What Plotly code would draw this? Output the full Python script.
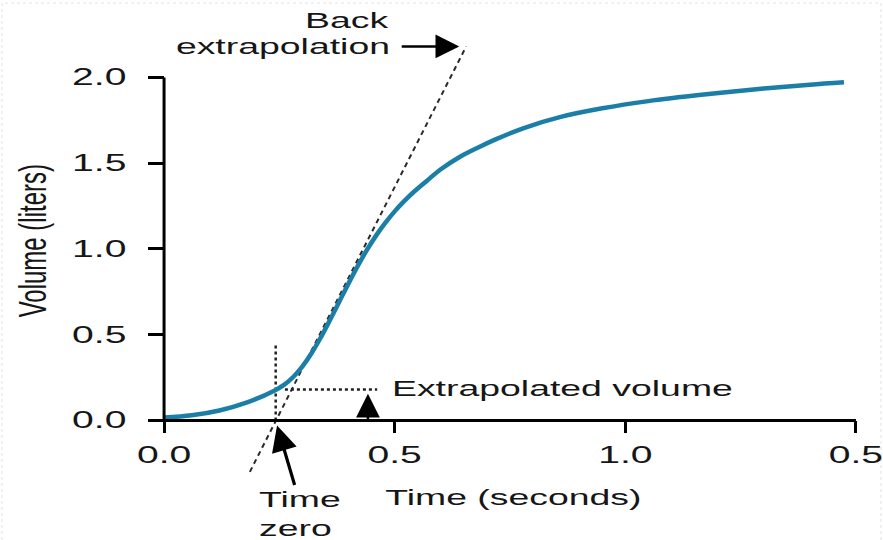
import plotly.graph_objects as go

# Spirometry volume-time trace (seconds, liters)
time_s = [0.000, 0.060, 0.120, 0.180, 0.240, 0.260, 0.280, 0.300, 0.320, 0.340,
          0.360, 0.380, 0.400, 0.420, 0.440, 0.460, 0.480, 0.500, 0.520, 0.540,
          0.570, 0.600, 0.640, 0.680, 0.720, 0.780, 0.860, 0.950, 1.050, 1.170,
          1.300, 1.400, 1.474]
volume_l = [0.017, 0.030, 0.058, 0.105, 0.175, 0.207, 0.253, 0.315, 0.393, 0.485,
            0.587, 0.693, 0.799, 0.901, 0.995, 1.079, 1.153, 1.219, 1.277, 1.329,
            1.398, 1.465, 1.535, 1.590, 1.640, 1.705, 1.770, 1.820, 1.862, 1.900,
            1.935, 1.958, 1.972]

# Back-extrapolated tangent line through the steepest part of the curve
backext_t = [0.186, 0.655]
backext_v = [-0.300, 2.181]

time_zero = 0.242
time_zero_marker_top = 0.45
extrapolated_volume = 0.18
extrap_vol_t = [0.262, 0.462]

x_tickvals = [0.0, 0.5, 1.0, 1.5]
x_ticktext = ["0.0", "0.5", "1.0", "0.5"]
y_tickvals = [0.0, 0.5, 1.0, 1.5, 2.0]
y_ticktext = ["0.0", "0.5", "1.0", "1.5", "2.0"]

X_RANGE = [-0.05, 1.55]
Y_RANGE = [-0.40, 2.30]
X_AXIS_END = 1.5
Y_AXIS_END = 2.0

W, H = 883, 540
M = dict(l=141, r=4, t=26, b=51)

FONT = "Liberation Sans, Arial, Helvetica, sans-serif"
INK = "#161616"
CURVE = "#1b7ea6"

fig = go.Figure()

fig.add_trace(go.Scatter(
    x=backext_t, y=backext_v, mode="lines",
    line=dict(color="#2a2a2a", width=2, dash="5px,4px"), hoverinfo="skip"))

fig.add_trace(go.Scatter(
    x=[time_zero, time_zero], y=[0.0, time_zero_marker_top], mode="lines",
    line=dict(color="#222222", width=2.5, dash="dot"), hoverinfo="skip"))

fig.add_trace(go.Scatter(
    x=extrap_vol_t, y=[extrapolated_volume, extrapolated_volume], mode="lines",
    line=dict(color="#222222", width=2.5, dash="dot"), hoverinfo="skip"))

fig.add_trace(go.Scatter(
    x=time_s, y=volume_l, mode="lines",
    line=dict(color=CURVE, width=4.5, shape="spline", smoothing=1.0),
    hoverinfo="skip"))

# Axis lines stop at the last tick, so draw them as shapes
fig.add_shape(type="line", xref="x", yref="y", x0=0, y0=0, x1=X_AXIS_END, y1=0,
              line=dict(color="black", width=3), layer="above")
fig.add_shape(type="line", xref="x", yref="y", x0=0, y0=0, x1=0, y1=Y_AXIS_END,
              line=dict(color="black", width=3), layer="above")

# light dotted frame around the figure
pw = W - M["l"] - M["r"]
ph = H - M["t"] - M["b"]
fig.add_shape(type="rect", xref="paper", yref="paper",
              x0=(2 - M["l"]) / pw, x1=(W - 2 - M["l"]) / pw,
              y0=(M["b"] - H + 3) / ph, y1=(H - 3 - M["b"]) / ph,
              line=dict(color="#e2e2e2", width=1, dash="dot"), layer="below")

x_pos = (0 - Y_RANGE[0]) / (Y_RANGE[1] - Y_RANGE[0])
y_pos = (0 - X_RANGE[0]) / (X_RANGE[1] - X_RANGE[0])

fig.update_layout(
    width=W, height=H, margin=M,
    paper_bgcolor="white", plot_bgcolor="white",
    showlegend=False,
    font=dict(family=FONT, color=INK),
    xaxis=dict(range=X_RANGE, anchor="free", position=x_pos,
               showgrid=False, zeroline=False, showline=False,
               tickmode="array", tickvals=x_tickvals, ticktext=x_ticktext,
               ticks="outside", ticklen=12, tickwidth=3, tickcolor="black",
               tickfont=dict(size=23, family=FONT, color=INK),
               ticklabelstandoff=2),
    yaxis=dict(range=Y_RANGE, anchor="free", position=y_pos,
               showgrid=False, zeroline=False, showline=False,
               tickmode="array", tickvals=y_tickvals, ticktext=y_ticktext,
               ticks="outside", ticklen=16, tickwidth=3, tickcolor="black",
               tickfont=dict(size=23, family=FONT, color=INK),
               ticklabelstandoff=17),
)

def label(text, x, y, xanchor, yshift=0, size=22):
    fig.add_annotation(text=text, x=x, y=y, xref="x", yref="y", yshift=yshift,
                       xanchor=xanchor, yanchor="middle", align=xanchor,
                       showarrow=False, font=dict(size=size, family=FONT, color=INK))

def arrow(x_tail, y_tail, x_tip, y_tip, width=2.5, size=1.9):
    fig.add_annotation(text="", x=x_tip, y=y_tip, ax=x_tail, ay=y_tail,
                       xref="x", yref="y", axref="x", ayref="y",
                       showarrow=True, arrowhead=2, arrowsize=size,
                       arrowwidth=width, arrowcolor="black", standoff=0)

label("Back", 0.494, 2.181, "right", yshift=26)
label("extrapolation", 0.494, 2.181, "right")
arrow(0.512, 2.181, 0.640, 2.181)

label("Extrapolated volume", 0.490, 0.187, "left")
arrow(0.442, 0.0, 0.442, 0.155)

label("Time", 0.2016, -0.38, "left", yshift=-14)
label("zero", 0.2016, -0.38, "left", yshift=-43)
arrow(0.284, -0.385, 0.245, -0.03, width=3.2, size=1.6)

label("Time (seconds)", 0.757, -0.38, "center", yshift=-12)

# y-axis title, vertical
fig.add_annotation(text="Volume (liters)", x=0.0, y=1.044, xref="paper", yref="y",
                   xshift=-109, textangle=-90, showarrow=False,
                   xanchor="center", yanchor="middle",
                   font=dict(size=24, family=FONT, color=INK))

# widen the lettering horizontally around each label's anchor point
stretch_js = r"""
var gd = document.getElementById('{plot_id}');
var SX = 1.7;
gd.querySelectorAll('svg text').forEach(function(el){
  if (!el.textContent || !el.textContent.trim()) return;
  var bb = el.getBBox();
  var anchor = el.getAttribute('text-anchor') || 'start';
  var own = el.getAttribute('transform') || '';
  var grp = el.closest('.annotation-text-g');
  var m = /rotate\((-?[\d.]+)/.exec(own);
  if (!m && grp) m = /rotate\((-?[\d.]+)/.exec(grp.getAttribute('transform') || '');
  var vertical = m && Math.abs(parseFloat(m[1])) > 45;
  var t;
  if (vertical) {
    var cy = bb.y + bb.height / 2;
    t = ' translate(0,' + cy + ') scale(1,' + (SX * 0.95) + ') translate(0,' + (-cy) + ')';
  } else {
    var ax = anchor === 'end' ? bb.x + bb.width : (anchor === 'middle' ? bb.x + bb.width / 2 : bb.x);
    t = ' translate(' + ax + ',0) scale(' + SX + ',1) translate(' + (-ax) + ',0)';
  }
  el.setAttribute('transform', own + t);
});
"""

fig.write_html("out.html", config=dict(staticPlot=True, displayModeBar=False),
               post_script=stretch_js)
